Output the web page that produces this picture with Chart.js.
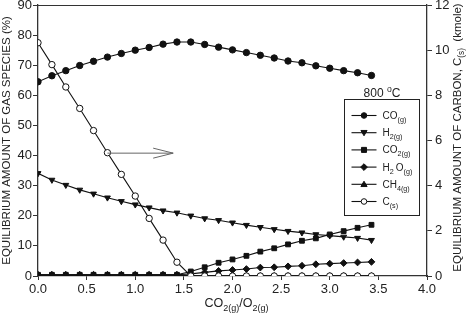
<!DOCTYPE html>
<html><head><meta charset="utf-8">
<script src="https://cdn.jsdelivr.net/npm/chart.js@4"></script>
<style>html,body{margin:0;padding:0;background:#fff}canvas{display:block}</style>
</head><body>
<canvas id="c" width="466" height="314"></canvas>
<script>
// ---- data ----
const ratio = [0, 0.143, 0.286, 0.429, 0.571, 0.714, 0.857, 1.0, 1.143, 1.286, 1.429, 1.571, 1.714,
  1.857, 2.0, 2.143, 2.286, 2.429, 2.571, 2.714, 2.857, 3.0, 3.143, 3.286, 3.429];
const coGas = [64.5, 66.5, 68.2, 69.9, 71.3, 72.7, 73.9, 75.0, 75.9, 77.0, 77.7, 77.7, 76.9,
  76.0, 75.1, 74.2, 73.3, 72.4, 71.4, 70.8, 69.8, 69.0, 68.2, 67.5, 66.6];
const h2Gas = [34.1, 31.9, 30.2, 28.6, 27.3, 26.0, 24.8, 23.7, 22.7, 21.7, 21.0, 20.0, 19.1,
  18.5, 17.7, 16.9, 16.2, 15.5, 14.9, 14.4, 13.8, 13.4, 13.0, 12.6, 11.9];
const co2Gas = [0.4, 0.4, 0.4, 0.4, 0.4, 0.4, 0.4, 0.4, 0.4, 0.4, 0.4, 1.5, 2.9,
  4.4, 5.5, 6.7, 8.1, 9.2, 10.5, 11.7, 12.5, 13.8, 14.9, 16.0, 17.0];
const h2oGas = [0.4, 0.4, 0.4, 0.4, 0.4, 0.4, 0.4, 0.4, 0.4, 0.4, 0.4, 0.7, 1.2,
  1.7, 2.0, 2.3, 2.8, 2.9, 3.2, 3.4, 3.9, 4.1, 4.3, 4.5, 4.7];
const ch4Gas = [0.3, 0.3, 0.3, 0.3, 0.3, 0.3, 0.3, 0.3, 0.3, 0.3, 0.3, 0.1, 0,
  0, 0, 0, 0, 0, 0, 0, 0, 0, 0, 0, 0];
const carbon = [10.33, 9.36, 8.37, 7.42, 6.44, 5.46, 4.5, 3.54, 2.55, 1.59, 0.61, 0, 0,
  0, 0, 0, 0, 0, 0, 0, 0, 0, 0, 0, 0];
const seriesLabels = ['CO_{(g)}', 'H_{2(g)}', 'CO_{2(g)}', 'H_{2 }O_{(g)}', 'CH_{4(g)}', 'C_{(s)}'];
const xTickValues = [0, 0.5, 1.0, 1.5, 2.0, 2.5, 3.0, 3.5, 4.0];
const leftTickValues = [0, 10, 20, 30, 40, 50, 60, 70, 80, 90];
const rightTickValues = [0, 2, 4, 6, 8, 10, 12];
const arrowFrom = [0.714, 40.8];
const arrowTo = [1.39, 40.8];
const legendTitle = '800 ^{o}C';
const xTitle = 'CO_{2(g)}/O_{2(g)}';
const leftTitle = 'EQUILIBRIUM AMOUNT OF GAS SPECIES (%)';
const rightTitle = 'EQUILIBRIUM AMOUNT OF CARBON, C_{(s)}  (kmole)';

// ---- helpers ----
const FF = '"Liberation Sans", Arial, Helvetica, sans-serif';
const TXT = '#222';
function parseRich(str){
  const segs=[]; const re=/_\{([^}]*)\}|\^\{([^}]*)\}|([^_^]+)/g; let m;
  while((m=re.exec(str))){
    if(m[1]!==undefined) segs.push({t:m[1],k:'sub'});
    else if(m[2]!==undefined) segs.push({t:m[2],k:'sup'});
    else segs.push({t:m[3],k:'n'});
  }
  return segs;
}
function drawRich(ctx,str,x,y,size,align){
  const segs=parseRich(str); let w=0;
  for(const s of segs){ s.fs = s.k==='n'?size:size*0.72; ctx.font=s.fs+'px '+FF; s.w=ctx.measureText(s.t).width; w+=s.w; }
  let cx = align==='center'? x-w/2 : x;
  ctx.textAlign='left'; ctx.textBaseline='alphabetic'; ctx.fillStyle=TXT;
  for(const s of segs){
    ctx.font=s.fs+'px '+FF;
    const dy = s.k==='sub'? size*0.3 : (s.k==='sup'? -size*0.42 : 0);
    ctx.fillText(s.t,cx,y+dy); cx+=s.w;
  }
}
function marker(ctx,style,x,y,r,fill){
  ctx.save(); ctx.fillStyle=fill; ctx.strokeStyle='#111'; ctx.lineWidth=1;
  ctx.beginPath();
  if(style==='circle'){ ctx.arc(x,y,r,0,Math.PI*2); }
  else if(style==='rect'){ ctx.rect(x-r*0.9,y-r*0.9,r*1.8,r*1.8); }
  else if(style==='rectRot'){ ctx.moveTo(x,y-r*1.2); ctx.lineTo(x+r*1.2,y); ctx.lineTo(x,y+r*1.2); ctx.lineTo(x-r*1.2,y); ctx.closePath(); }
  else if(style==='tri'){ ctx.moveTo(x,y-r*1.1); ctx.lineTo(x+r*1.1,y+r*0.8); ctx.lineTo(x-r*1.1,y+r*0.8); ctx.closePath(); }
  else if(style==='triDown'){ ctx.moveTo(x,y+r*1.1); ctx.lineTo(x+r*1.1,y-r*0.8); ctx.lineTo(x-r*1.1,y-r*0.8); ctx.closePath(); }
  ctx.fill(); ctx.stroke(); ctx.restore();
}

const styles = [
  {ps:'circle', rot:0, legend:'circle', fill:'#111'},
  {ps:'triangle', rot:180, legend:'triDown', fill:'#111'},
  {ps:'rect', rot:0, legend:'rect', fill:'#111'},
  {ps:'rectRot', rot:0, legend:'rectRot', fill:'#111'},
  {ps:'triangle', rot:0, legend:'tri', fill:'#111'},
  {ps:'circle', rot:0, legend:'circle', fill:'#fff'}
];
const seriesData = [coGas, h2Gas, co2Gas, h2oGas, ch4Gas, carbon];

const datasets = seriesData.map((arr,i)=>({
  label: seriesLabels[i],
  data: ratio.map((x,j)=>({x:x, y:arr[j]})),
  yAxisID: i===5 ? 'yC' : 'y',
  borderColor:'#111', borderWidth:1.1,
  pointStyle: styles[i].ps, pointRotation: styles[i].rot,
  pointRadius: (styles[i].ps==='circle')?3.2:3.4,
  pointBackgroundColor: styles[i].fill, pointBorderColor:'#111', pointBorderWidth:1,
  tension:0, fill:false,
  order: i===5 ? 0 : 6-i
}));

const decor = {
  id:'decor',
  afterDatasetsDraw(chart){
    const {ctx, chartArea:a, scales} = chart;
    ctx.save();
    // top border
    ctx.strokeStyle='#333'; ctx.lineWidth=1;
    ctx.beginPath(); ctx.moveTo(a.left, a.top+0.5); ctx.lineTo(a.right, a.top+0.5); ctx.stroke();
    // arrow
    const x1=scales.x.getPixelForValue(arrowFrom[0]), y1=scales.y.getPixelForValue(arrowFrom[1]);
    const x2=scales.x.getPixelForValue(arrowTo[0]), y2=scales.y.getPixelForValue(arrowTo[1]);
    ctx.strokeStyle='#666'; ctx.lineWidth=1;
    ctx.beginPath(); ctx.moveTo(x1,y1); ctx.lineTo(x2,y2); ctx.stroke();
    ctx.beginPath(); ctx.moveTo(x2-20,y2-5); ctx.lineTo(x2,y2); ctx.lineTo(x2-20,y2+5); ctx.stroke();
    // legend
    const bx=344.5, by=99.5, bw=75, bh=116;
    ctx.fillStyle='#fff'; ctx.fillRect(bx,by,bw,bh);
    ctx.strokeStyle='#222'; ctx.lineWidth=1; ctx.strokeRect(bx,by,bw,bh);
    drawRich(ctx, legendTitle, bx+bw/2, 97, 12, 'center');
    for(let i=0;i<seriesLabels.length;i++){
      const ry = by + 16 + i*17.2;
      ctx.strokeStyle='#111'; ctx.lineWidth=1.1;
      ctx.beginPath(); ctx.moveTo(bx+7, ry); ctx.lineTo(bx+32, ry); ctx.stroke();
      marker(ctx, styles[i].legend, bx+19.5, ry, 2.8, styles[i].fill);
      drawRich(ctx, seriesLabels[i], bx+38, ry+3.5, 10, 'left');
    }
    // axis titles
    drawRich(ctx, xTitle, (a.left+a.right)/2 + 4, 307, 12.5, 'center');
    ctx.save(); ctx.translate(10, (a.top+a.bottom)/2); ctx.rotate(-Math.PI/2);
    drawRich(ctx, leftTitle, 0, 0, 11.5, 'center'); ctx.restore();
    ctx.save(); ctx.translate(461, (a.top+a.bottom)/2 - 3); ctx.rotate(-Math.PI/2);
    drawRich(ctx, rightTitle, 0, 0, 11.5, 'center'); ctx.restore();
    ctx.restore();
  }
};

const tickFont = {family: FF, size: 13};
new Chart(document.getElementById('c'), {
  type:'line',
  data:{datasets},
  options:{
    responsive:false, animation:false, devicePixelRatio:1,
    layout:{padding:{top:5, left:0, right:0, bottom:0}},
    plugins:{legend:{display:false}, tooltip:{enabled:false}},
    scales:{
      x:{type:'linear', min:0, max:4,
        afterBuildTicks(s){ s.ticks = xTickValues.map(v=>({value:v})); },
        afterFit(s){ s.height=38; s.paddingLeft=0; s.paddingRight=0; },
        ticks:{font:tickFont, color:TXT, padding:2, maxRotation:0, autoSkip:false, callback:v=>v.toFixed(1)},
        grid:{drawOnChartArea:false, drawTicks:true, tickLength:4, color:'#333'},
        border:{display:true, color:'#333', width:1.3}
      },
      y:{type:'linear', position:'left', min:0, max:90,
        afterBuildTicks(s){ s.ticks = leftTickValues.map(v=>({value:v})); },
        afterFit(s){ s.width=38; s.paddingTop=0; s.paddingBottom=0; },
        ticks:{font:tickFont, color:TXT, padding:1, autoSkip:false},
        grid:{drawOnChartArea:false, drawTicks:true, tickLength:5, color:'#333'},
        border:{display:true, color:'#333', width:1.3}
      },
      yC:{type:'linear', position:'right', min:0, max:12,
        afterBuildTicks(s){ s.ticks = rightTickValues.map(v=>({value:v})); },
        afterFit(s){ s.width=39; s.paddingTop=0; s.paddingBottom=0; },
        ticks:{font:tickFont, color:TXT, padding:3, autoSkip:false},
        grid:{drawOnChartArea:false, drawTicks:true, tickLength:5, color:'#333'},
        border:{display:true, color:'#333', width:1.3}
      }
    }
  },
  plugins:[decor]
});
</script>
</body></html>
